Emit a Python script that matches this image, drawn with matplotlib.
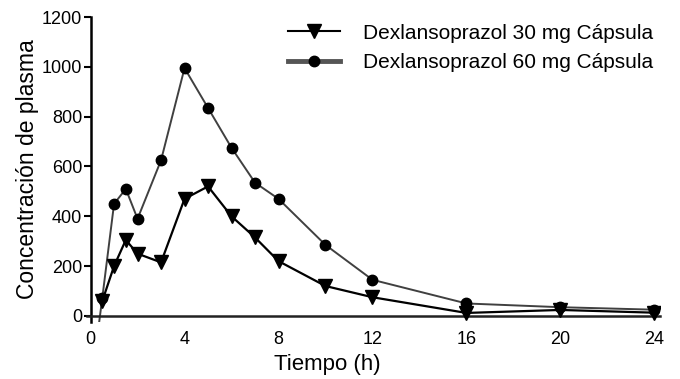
import matplotlib.pyplot as plt

plt.rcParams['font.family'] = ['Liberation Sans', 'DejaVu Sans']

# data
t_30 = [0.5, 1, 1.5, 2, 3, 4, 5, 6, 7, 8, 10, 12, 16, 20, 24]
c_30 = [60, 200, 305, 250, 215, 470, 520, 400, 315, 220, 120, 75, 12, 24, 13]

t_60 = [0.25, 0.5, 1, 1.5, 2, 3, 4, 5, 6, 7, 8, 10, 12, 16, 20, 24]
c_60 = [-110, 73, 450, 510, 390, 625, 995, 835, 675, 535, 470, 285, 145, 50, 35, 25]

x_ticks = [0, 4, 8, 12, 16, 20, 24]
y_ticks = [0, 200, 400, 600, 800, 1000, 1200]

fig = plt.figure(figsize=(6.8, 3.79), dpi=100)
ax = fig.add_axes([0.128, 0.150, 0.843, 0.805])

ax.plot(t_60, c_60, color='#404040', lw=1.4, marker='o', ms=7.5,
        mfc='black', mec='black', markevery=slice(1, None), zorder=2)
ax.plot(t_30, c_30, color='black', lw=1.6, marker='v', ms=10,
        mfc='black', mec='black', zorder=3)

# legend handles (60 mg line drawn thicker in the key)
h30, = ax.plot([], [], color='black', lw=1.5, marker='v', ms=10)
h60, = ax.plot([], [], color='#555555', lw=3.5, marker='o', ms=7.5,
               mfc='black', mec='black')
ax.legend([h30, h60], ['Dexlansoprazol 30 mg Cápsula', 'Dexlansoprazol 60 mg Cápsula'],
          loc='upper right', bbox_to_anchor=(1.02, 1.04), frameon=False,
          fontsize=15, handlelength=2.5, handletextpad=1.1, labelspacing=0.5)

ax.set_xlim(-0.15, 24.25)
ax.set_ylim(-25, 1200)
ax.spines['top'].set_visible(False)
ax.spines['right'].set_visible(False)
ax.spines['bottom'].set_position(('data', 0))
ax.spines['left'].set_position(('data', 0))
ax.spines['bottom'].set_linewidth(1.8)
ax.spines['left'].set_linewidth(1.8)
ax.spines['bottom'].set_color('#222222')

ax.set_xticks(x_ticks)
ax.set_yticks(y_ticks)
ax.tick_params(axis='x', length=0, pad=11, labelsize=13)
ax.tick_params(axis='y', length=5, width=1.5, pad=1, labelsize=13)

ax.set_xlabel('Tiempo (h)', fontsize=16)
ax.xaxis.set_label_coords(0.419, -0.105)
ax.set_ylabel('Concentración de plasma', fontsize=16.5, labelpad=2)

fig.savefig('out.png', dpi=100)
